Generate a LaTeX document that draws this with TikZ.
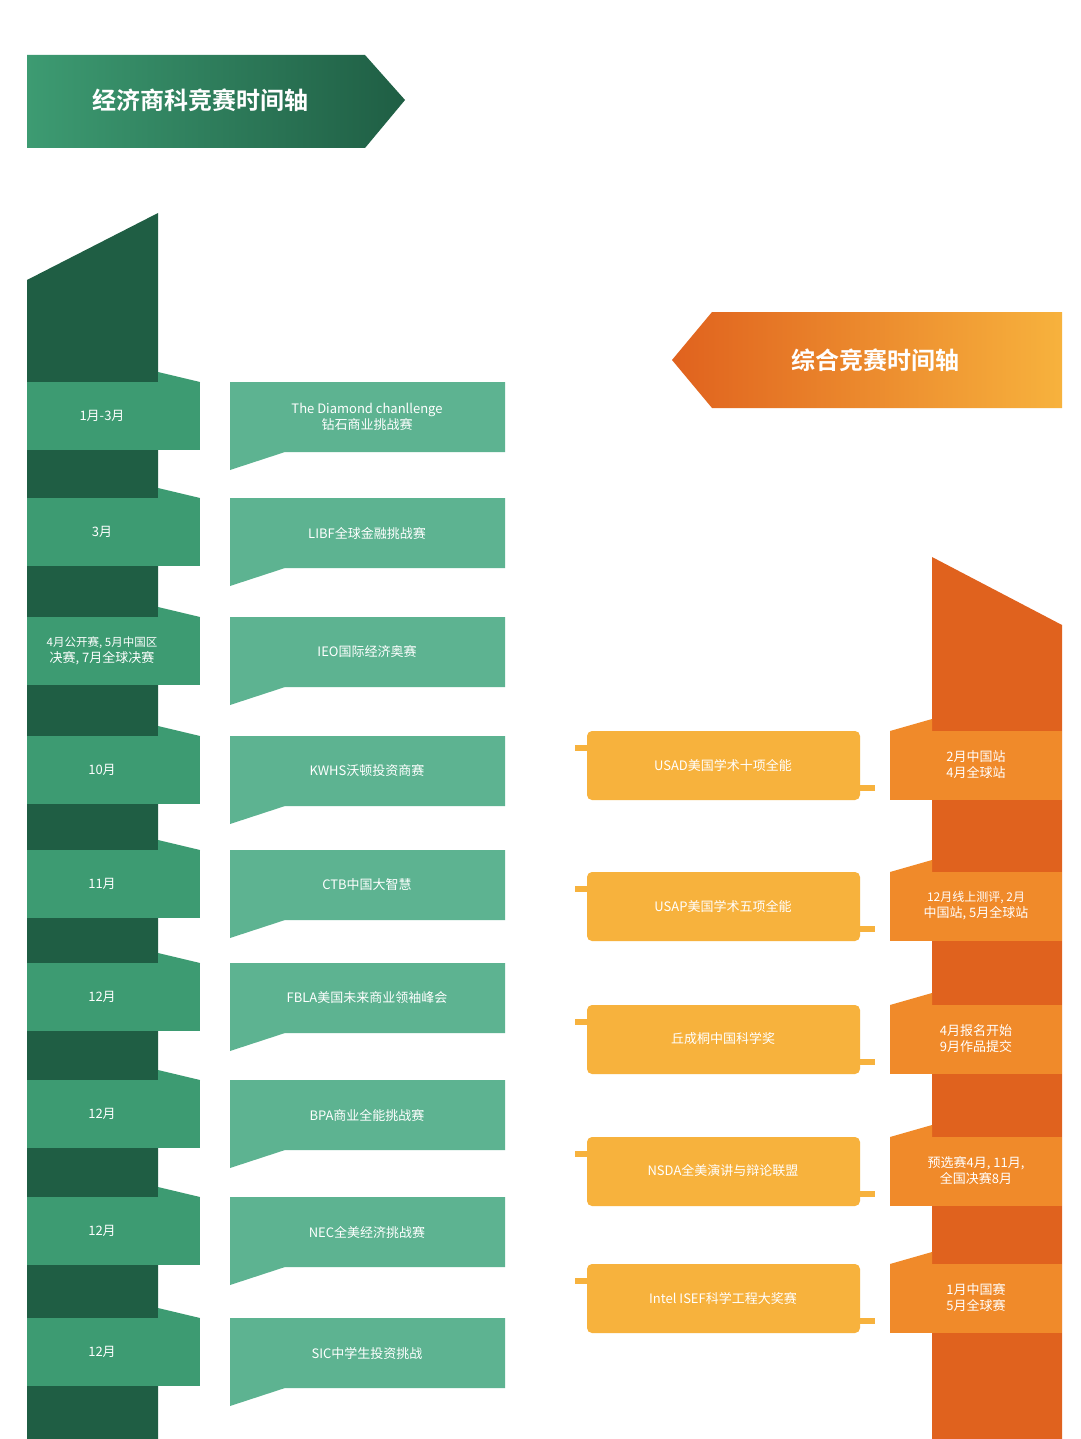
\documentclass[tikz,border=0pt]{standalone}
\usepackage{fontspec}
\setmainfont{Noto Sans CJK SC}
\newfontfamily\cjkb{Noto Sans CJK SC Bold}
\definecolor{gdark}{HTML}{1F5E44}
\definecolor{gtab}{HTML}{3D9B72}
\definecolor{gbox}{HTML}{5DB391}
\definecolor{odark}{HTML}{E0621E}
\definecolor{otab}{HTML}{F08A2A}
\definecolor{ybox}{HTML}{F7B23D}
\begin{document}
\begin{tikzpicture}[x=1pt,y=-1pt,
  txt/.style={text=white,font=\fontsize{13}{16}\selectfont,align=center},
  gtabs/.style={fill=gtab},
  gboxs/.style={fill=gbox},
  otabs/.style={fill=otab},
  yboxs/.style={fill=ybox,rounded corners=5pt}]
\useasboundingbox (0,0) rectangle (1080,1439);
\fill[white] (0,0) rectangle (1080,1439);
% green header
\shade[left color=gtab,right color=gdark] (27,55) -- (365,55) -- (405,100) -- (365,148) -- (27,148) -- cycle;
\node[text=white,font=\cjkb\fontsize{24}{28}\selectfont] (gh) at (200,100) {经济商科竞赛时间轴};
% orange header
\shade[left color=odark,right color=ybox] (712,312) -- (1062,312) -- (1062,408) -- (712,408) -- (672,360) -- cycle;
\node[text=white,font=\cjkb\fontsize{24}{28}\selectfont] (oh) at (875,360) {综合竞赛时间轴};
% green column
\fill[gdark] (27,280) -- (158,213) -- (158,1439) -- (27,1439) -- cycle;
% orange column
\fill[odark] (932,557) -- (1062,625) -- (1062,1439) -- (932,1439) -- cycle;
% green rows
\foreach \y/\m/\t [count=\i] in {
 382/{1月-3月}/{The Diamond chanllenge\\钻石商业挑战赛},
 498/{3月}/{LIBF全球金融挑战赛},
 617/{\fontsize{11.5}{15}\selectfont 4月公开赛, 5月中国区\\决赛, 7月全球决赛}/{IEO国际经济奥赛},
 736/{10月}/{KWHS沃顿投资商赛},
 850/{11月}/{CTB中国大智慧},
 963/{12月}/{FBLA美国未来商业领袖峰会},
 1080/{12月}/{BPA商业全能挑战赛},
 1197/{12月}/{NEC全美经济挑战赛},
 1318/{12月}/{SIC中学生投资挑战}}{
  \fill[gtab] (158,\y-10) -- (200,\y) -- (158,\y) -- cycle;
  \fill[gtabs] (27,\y) rectangle (200,\y+68);
  \node[txt] (m\i) at (102,\y+34) {\m};
  \fill[gboxs] (230,\y) -- (505,\y) -- (505,\y+70) -- (285,\y+70) -- (230,\y+88) -- (230,\y+70) -- cycle;
  \node[txt] (b\i) at (367,\y+35) {\t};
}
% orange rows
\foreach \y/\t/\m [count=\i] in {
 731/{USAD美国学术十项全能}/{2月中国站\\4月全球站},
 872/{USAP美国学术五项全能}/{\fontsize{12}{15}\selectfont 12月线上测评, 2月\\中国站, 5月全球站},
 1005/{丘成桐中国科学奖}/{4月报名开始\\9月作品提交},
 1137/{NSDA全美演讲与辩论联盟}/{预选赛4月, 11月,\\全国决赛8月},
 1264/{Intel ISEF科学工程大奖赛}/{1月中国赛\\5月全球赛}}{
  \fill[otab] (932,\y-12) -- (890,\y) -- (932,\y) -- cycle;
  \fill[otabs] (890,\y) rectangle (1062,\y+69);
  \node[txt] (om\i) at (976,\y+34) {\m};
  \fill[ybox] (575,\y+14) rectangle (595,\y+20);
  \fill[ybox] (850,\y+54) rectangle (875,\y+60);
  \fill[yboxs] (587,\y) rectangle (860,\y+69);
  \node[txt] (ob\i) at (723,\y+34) {\t};
}
\end{tikzpicture}
\end{document}
